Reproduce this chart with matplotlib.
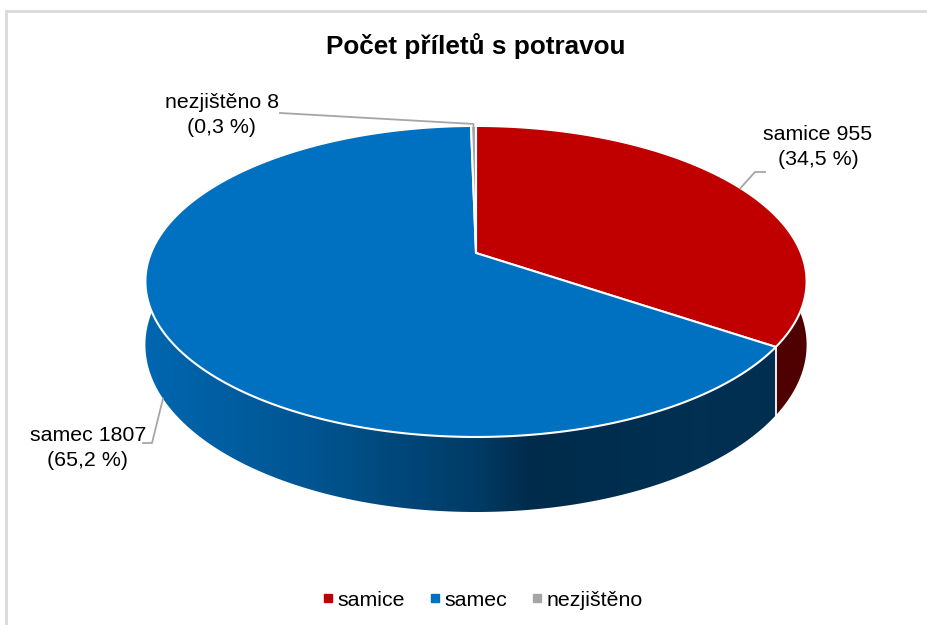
import numpy as np
import matplotlib
matplotlib.use("Agg")
import matplotlib.pyplot as plt
from matplotlib.patches import Polygon
from matplotlib.lines import Line2D

# ---- data ----
categories = ["samice", "samec", "nezjištěno"]
values = [955, 1807, 8]
colors = ["#C00000", "#0070C0", "#A5A5A5"]
title = "Počet příletů s potravou"

plt.rcParams['font.family'] = ['Liberation Sans', 'DejaVu Sans']

W, H = 928, 625
fig = plt.figure(figsize=(W / 100, H / 100), dpi=100)
ax = fig.add_axes([0, 0, 1, 1])

# ---- projection ----
cx, cy = 476.0, 253.0
a, b, c, k = 325.0, 150.3, 61.3, 0.183


def proj(theta_deg, r=1.0, depth=0.0):
    t = np.radians(theta_deg)
    u = r * np.sin(t)
    v = r * np.cos(t)
    w = 1 + k * v
    return cx + a * u / w, cy + (-b * v + c * depth) / w


def side_factor_x(x):
    return np.interp(x, [140, 317, 476, 530, 700, 815],
                     [0.92, 0.75, 0.53, 0.39, 0.43, 0.41])


total = float(sum(values))
fracs = [v / total for v in values]
bounds = np.concatenate([[0], np.cumsum(fracs)]) * 360.0

# side faces (visible front part), filled with a horizontal shading gradient
gx0, gx1 = 130, 830
xs_img = np.linspace(gx0, gx1, 800)
for i, col in enumerate(colors):
    t0, t1 = max(bounds[i], 80.0), min(bounds[i + 1], 280.0)
    if t1 <= t0:
        continue
    ts = np.linspace(t0, t1, 400)
    top = [proj(t, 1, 0) for t in ts]
    bot = [proj(t, 1, 1) for t in ts[::-1]]
    poly = Polygon(top + bot, closed=True, facecolor='none', edgecolor='none',
                   zorder=2)
    ax.add_patch(poly)
    rgb = np.array(matplotlib.colors.to_rgb(col))
    img = np.clip(side_factor_x(xs_img)[:, None] * rgb[None, :], 0, 1)[None, :, :]
    im = ax.imshow(img, extent=(gx0, gx1, 540, 100), aspect='auto',
                   interpolation='bilinear', zorder=2)
    im.set_clip_path(poly)

# vertical white separators on visible sides
for tb in bounds[1:-1]:
    vv = np.cos(np.radians(tb))
    if vv < 0.2:
        x0, y0 = proj(tb, 1, 0)
        x1, y1 = proj(tb, 1, 1)
        ax.plot([x0, x1], [y0, y1], color="white", lw=1.3, zorder=3)

# top faces
for i, col in enumerate(colors):
    t0, t1 = bounds[i], bounds[i + 1]
    ts = np.linspace(t0, t1, max(3, int((t1 - t0) * 2)))
    pts = [proj(0, 0, 0)] + [proj(t, 1, 0) for t in ts]
    ax.add_patch(Polygon(pts, closed=True, facecolor=col, edgecolor="white",
                         lw=1.5, joinstyle='round', zorder=4))

# chart frame (left and top visible)
ax.plot([6, 6], [10, H], color="#D9D9D9", lw=2, solid_capstyle='butt')
ax.plot([5, W], [11, 11], color="#D9D9D9", lw=2, solid_capstyle='butt')

# ---- labels ----
def pct(v):
    return f"{100 * v / total:.1f}".replace(".", ",") + " %"

label_pos = {"samice": (818, 147), "samec": (88, 448), "nezjištěno": (222, 115)}
anchor_depth = {"samice": 0, "samec": 1, "nezjištěno": 0}
elbows = {"samice": [(755, 172), (765, 172)],
          "samec": [(152, 443), (143, 443)],
          "nezjištěno": [(280, 113)]}
fs = 15.4
for i, cat in enumerate(categories):
    tm = 0.5 * (bounds[i] + bounds[i + 1])
    ax_, ay_ = proj(tm, 1, anchor_depth[cat])
    if cat == "nezjištěno":
        pts = [(ax_, ay_ + 3), (ax_, ay_ - 2)] + elbows[cat]
    else:
        pts = [(ax_, ay_)] + elbows[cat]
    xs, ys = zip(*pts)
    ax.plot(xs, ys, color="#A6A6A6", lw=1.3, zorder=5)
    lx, ly = label_pos[cat]
    ax.text(lx, ly, f"{cat} {values[i]}\n({pct(values[i])})", ha="center",
            va="center", fontsize=fs, color="#000000", linespacing=1.38, zorder=6)

ax.text(476, 46, title, ha="center", va="center", fontsize=18.8,
        fontweight="bold", color="#000000")

handles = [Line2D([], [], marker='s', color=col, linestyle='', markersize=5.5)
           for col in colors]
ax.legend(handles, categories, loc="center", bbox_to_anchor=(482 / W, 1 - 600 / H),
          ncol=3, frameon=False, fontsize=fs, handletextpad=0.15,
          columnspacing=1.1, handlelength=0.6)

ax.set_xlim(0, W)
ax.set_ylim(H, 0)
ax.axis('off')

fig.savefig("out.png", dpi=100)
